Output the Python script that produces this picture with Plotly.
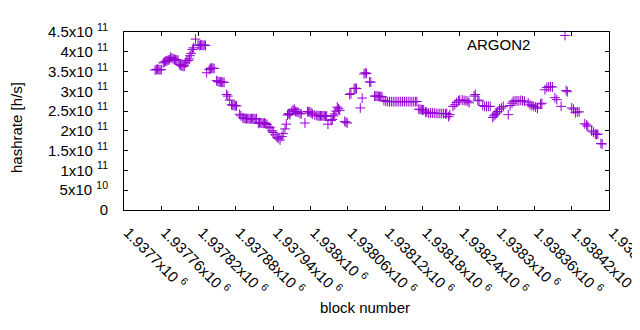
import plotly.graph_objects as go

blocks = [
    1937750, 1937752, 1937754, 1937756, 1937758, 1937760, 1937763, 1937765, 1937767, 1937769,
    1937771, 1937773, 1937775, 1937777, 1937779, 1937781, 1937783, 1937785, 1937787, 1937789,
    1937791, 1937793, 1937795, 1937797, 1937799, 1937801, 1937803, 1937805, 1937806, 1937808,
    1937810, 1937812, 1937815, 1937819, 1937821, 1937823, 1937825, 1937827, 1937829, 1937831,
    1937833, 1937837, 1937839, 1937841, 1937843, 1937845, 1937849, 1937851, 1937853, 1937855,
    1937857, 1937859, 1937861, 1937865, 1937867, 1937870, 1937873, 1937875, 1937877, 1937879,
    1937881, 1937886, 1937888, 1937891, 1937893, 1937895, 1937897, 1937899, 1937901, 1937903,
    1937905, 1937907, 1937909, 1937911, 1937913, 1937916, 1937918, 1937920, 1937922, 1937924,
    1937926, 1937928, 1937930, 1937933, 1937935, 1937938, 1937940, 1937943, 1937946, 1937948,
    1937951, 1937954, 1937956, 1937959, 1937961, 1937963, 1937964, 1937966, 1937967, 1937970,
    1937972, 1937974, 1937976, 1937978, 1937980, 1937983, 1937985, 1937991, 1937995, 1937997,
    1937999, 1938001, 1938003, 1938007, 1938010, 1938012, 1938014, 1938016, 1938018, 1938020,
    1938022, 1938024, 1938026, 1938028, 1938033, 1938035, 1938037, 1938039, 1938041, 1938043,
    1938045, 1938047, 1938055, 1938057, 1938059, 1938063, 1938065, 1938070, 1938072, 1938074,
    1938080, 1938083, 1938086, 1938088, 1938090, 1938095, 1938097, 1938103, 1938105, 1938107,
    1938109, 1938111, 1938113, 1938115, 1938118, 1938121, 1938124, 1938127, 1938130, 1938133,
    1938136, 1938139, 1938142, 1938145, 1938148, 1938151, 1938154, 1938157, 1938160, 1938163,
    1938166, 1938169, 1938171, 1938174, 1938176, 1938178, 1938180, 1938182, 1938185, 1938187,
    1938190, 1938193, 1938196, 1938199, 1938202, 1938205, 1938208, 1938211, 1938214, 1938217,
    1938219, 1938222, 1938224, 1938229, 1938232, 1938235, 1938238, 1938240, 1938244, 1938247,
    1938250, 1938253, 1938255, 1938263, 1938265, 1938269, 1938271, 1938277, 1938280, 1938283,
    1938286, 1938289, 1938293, 1938295, 1938297, 1938299, 1938301, 1938304, 1938307, 1938310,
    1938318, 1938321, 1938324, 1938326, 1938329, 1938332, 1938335, 1938338, 1938341, 1938344,
    1938350, 1938353, 1938356, 1938359, 1938362, 1938365, 1938370, 1938372, 1938377, 1938380,
    1938383, 1938386, 1938389, 1938393, 1938396, 1938403, 1938411, 1938413, 1938420, 1938423,
    1938426, 1938429, 1938432, 1938441, 1938444, 1938446, 1938452, 1938455, 1938458, 1938460,
    1938462, 1938467, 1938469,
]

hashrate = [
    3.54e11, 3.55e11, 3.56e11, 3.55e11, 3.54e11, 3.55e11, 3.72e11, 3.74e11, 3.76e11, 3.77e11,
    3.79e11, 3.80e11, 3.86e11, 3.84e11, 3.82e11, 3.81e11, 3.80e11, 3.79e11, 3.79e11, 3.68e11,
    3.66e11, 3.64e11, 3.63e11, 3.64e11, 3.72e11, 3.77e11, 3.78e11, 3.82e11, 3.90e11, 3.96e11,
    4.06e11, 4.10e11, 4.32e11, 4.17e11, 4.16e11, 4.17e11, 4.17e11, 4.16e11, 4.17e11, 4.16e11,
    3.47e11, 3.55e11, 3.58e11, 3.59e11, 3.58e11, 3.58e11, 3.27e11, 3.25e11, 3.24e11, 3.24e11,
    3.23e11, 3.23e11, 3.23e11, 2.92e11, 2.88e11, 2.78e11, 2.66e11, 2.65e11, 2.64e11, 2.64e11,
    2.63e11, 2.42e11, 2.38e11, 2.33e11, 2.32e11, 2.31e11, 2.31e11, 2.31e11, 2.31e11, 2.30e11,
    2.31e11, 2.31e11, 2.31e11, 2.30e11, 2.31e11, 2.19e11, 2.21e11, 2.20e11, 2.20e11, 2.19e11,
    2.20e11, 2.18e11, 2.16e11, 2.10e11, 2.08e11, 2.00e11, 1.96e11, 1.90e11, 1.84e11, 1.81e11,
    1.77e11, 1.86e11, 1.93e11, 2.05e11, 2.17e11, 2.40e11, 2.43e11, 2.44e11, 2.41e11, 2.50e11,
    2.53e11, 2.55e11, 2.49e11, 2.48e11, 2.47e11, 2.44e11, 2.43e11, 2.20e11, 2.49e11, 2.48e11,
    2.48e11, 2.45e11, 2.43e11, 2.40e11, 2.39e11, 2.38e11, 2.38e11, 2.38e11, 2.38e11, 2.38e11,
    2.38e11, 2.37e11, 2.38e11, 2.17e11, 2.26e11, 2.29e11, 2.38e11, 2.43e11, 2.50e11, 2.60e11,
    2.56e11, 2.52e11, 2.24e11, 2.22e11, 2.20e11, 2.92e11, 2.94e11, 3.07e11, 3.08e11, 3.07e11,
    2.58e11, 2.83e11, 3.44e11, 3.47e11, 3.45e11, 3.24e11, 3.23e11, 2.88e11, 2.88e11, 2.88e11,
    2.87e11, 2.87e11, 2.87e11, 2.86e11, 2.77e11, 2.75e11, 2.74e11, 2.74e11, 2.74e11, 2.74e11,
    2.74e11, 2.74e11, 2.74e11, 2.74e11, 2.74e11, 2.74e11, 2.74e11, 2.74e11, 2.74e11, 2.74e11,
    2.74e11, 2.74e11, 2.74e11, 2.55e11, 2.54e11, 2.54e11, 2.53e11, 2.53e11, 2.48e11, 2.47e11,
    2.45e11, 2.45e11, 2.45e11, 2.45e11, 2.44e11, 2.44e11, 2.44e11, 2.44e11, 2.44e11, 2.43e11,
    2.44e11, 2.36e11, 2.41e11, 2.62e11, 2.66e11, 2.72e11, 2.76e11, 2.78e11, 2.78e11, 2.77e11,
    2.76e11, 2.75e11, 2.71e11, 2.88e11, 2.92e11, 2.78e11, 2.76e11, 2.64e11, 2.62e11, 2.62e11,
    2.62e11, 2.62e11, 2.34e11, 2.38e11, 2.41e11, 2.45e11, 2.49e11, 2.55e11, 2.58e11, 2.62e11,
    2.41e11, 2.64e11, 2.70e11, 2.75e11, 2.76e11, 2.76e11, 2.76e11, 2.77e11, 2.76e11, 2.75e11,
    2.71e11, 2.66e11, 2.64e11, 2.62e11, 2.60e11, 2.57e11, 2.68e11, 2.70e11, 3.04e11, 3.10e11,
    3.11e11, 3.12e11, 3.11e11, 2.84e11, 2.79e11, 2.62e11, 3.02e11, 2.99e11, 2.58e11, 2.55e11,
    2.46e11, 2.48e11, 2.48e11, 2.18e11, 2.15e11, 2.12e11, 2.00e11, 1.97e11, 1.92e11, 1.91e11,
    1.92e11, 1.68e11, 1.67e11,
]

x_tick_vals = [1937700, 1937760, 1937820, 1937880, 1937940, 1938000, 1938060,
               1938120, 1938180, 1938240, 1938300, 1938360, 1938420, 1938480]
x_tick_text = ["1.9377x10 <sup>6</sup>", "1.93776x10 <sup>6</sup>", "1.93782x10 <sup>6</sup>",
               "1.93788x10 <sup>6</sup>", "1.93794x10 <sup>6</sup>", "1.938x10 <sup>6</sup>",
               "1.93806x10 <sup>6</sup>", "1.93812x10 <sup>6</sup>", "1.93818x10 <sup>6</sup>",
               "1.93824x10 <sup>6</sup>", "1.9383x10 <sup>6</sup>", "1.93836x10 <sup>6</sup>",
               "1.93842x10 <sup>6</sup>", "1.93848x10 <sup>6</sup>"]
y_tick_vals = [0, 5e10, 1e11, 1.5e11, 2e11, 2.5e11, 3e11, 3.5e11, 4e11, 4.5e11]
y_tick_text = ["0", "5x10 <sup>10</sup>", "1x10 <sup>11</sup>", "1.5x10 <sup>11</sup>",
               "2x10 <sup>11</sup>", "2.5x10 <sup>11</sup>", "3x10 <sup>11</sup>",
               "3.5x10 <sup>11</sup>", "4x10 <sup>11</sup>", "4.5x10 <sup>11</sup>"]

series_name = "ARGON2"
color = "#9400d3"
FONT = "Liberation Sans, Arial, sans-serif"
FS = 15
TFS = 15

# page is offset by the default 8px body margin; positions below are page pixels
OFF = 8
PL, PR, PT, PB = 124, 609, 19, 210  # plot area in page pixels


def px(x):
    return (x - PL) / (PR - PL)


def py(y):
    return (PB - y) / (PB - PT)


fig = go.Figure()
fig.add_trace(go.Scatter(
    x=blocks, y=hashrate, mode="markers", name=series_name, showlegend=False,
    marker=dict(symbol="cross-thin", size=7, color=color, line=dict(color=color, width=1)),
))
# legend sample (gnuplot style: text then symbol)
fig.add_trace(go.Scatter(
    x=[None], y=[None], mode="markers", name=" ", showlegend=True,
    marker=dict(symbol="cross-thin", size=7, color=color, line=dict(color=color, width=1)),
))

W, H = 640 - OFF, 330 - 2 * OFF
fig.update_layout(
    width=W, height=H,
    margin=dict(l=PL - OFF, r=OFF + W - PR, t=PT - OFF, b=OFF + H - PB),
    plot_bgcolor="white", paper_bgcolor="white",
    font=dict(family=FONT, size=FS, color="black"),
    showlegend=True,
    legend=dict(x=px(545), y=py(23), xanchor="left", yanchor="middle",
                bgcolor="rgba(0,0,0,0)", font=dict(size=FS), borderwidth=0,
                itemwidth=30, tracegroupgap=0),
    xaxis=dict(
        range=[1937700, 1938480], tickmode="array", tickvals=x_tick_vals, ticktext=x_tick_text,
        tickangle=45, ticks="inside", ticklen=4, tickcolor="black",
        showline=True, linecolor="black", linewidth=1, mirror="allticks",
        showgrid=False, zeroline=False, tickfont=dict(size=TFS), ticklabeloverflow="allow",
        ticklabelstandoff=7, ticklabelshift=4, automargin=False,
    ),
    yaxis=dict(
        range=[0, 4.5e11], tickmode="array", tickvals=y_tick_vals, ticktext=y_tick_text,
        ticks="inside", ticklen=4, tickcolor="black",
        showline=True, linecolor="black", linewidth=1, mirror="allticks",
        showgrid=False, zeroline=False, tickfont=dict(size=TFS), ticklabelstandoff=12,
        automargin=False,
    ),
    annotations=[
        dict(text="hashrate [h/s]", xref="paper", yref="paper", x=px(17), y=py(122),
             textangle=-90, showarrow=False, xanchor="center", yanchor="middle",
             font=dict(size=FS)),
        dict(text="block number", xref="paper", yref="paper", x=px(365), y=py(315),
             showarrow=False, xanchor="center", yanchor="middle", font=dict(size=FS)),
        dict(text=series_name, xref="paper", yref="paper", x=px(532), y=py(32),
             showarrow=False, xanchor="right", yanchor="middle", font=dict(size=FS)),
    ],
)

fig.write_html("out.html")
